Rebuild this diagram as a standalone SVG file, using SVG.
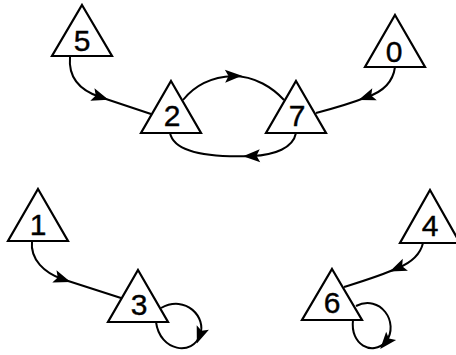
<svg xmlns="http://www.w3.org/2000/svg" width="456" height="355" viewBox="0 0 456 355">
<style>
.tri{fill:#fff;stroke:#000;stroke-width:2.2;stroke-linejoin:miter}
.lbl{font-family:"Liberation Sans",Arial,sans-serif;font-size:30px;fill:#000;text-anchor:middle;stroke:#000;stroke-width:0.4}
.edge{fill:none;stroke:#000;stroke-width:2;marker-mid:url(#arr)}
</style>
<defs>
<marker id="arr" markerUnits="userSpaceOnUse" markerWidth="22" markerHeight="22" viewBox="-11 -11 22 22" refX="0" refY="0" orient="auto">
<path d="M-8,-6.5 L9,0 L-8,6.5 L-4.5,0 z" fill="#000"/>
</marker>
</defs>
<rect width="456" height="355" fill="#fff"/>
<g id="connectors">
<path class="edge" d="M70,57 C68,80 82,91 100,97 L151,114"/>
<path class="edge" d="M183,100 C195,85 212,77 233,76 C255,76 273,88 284,100"/>
<path class="edge" d="M296,133 C293,148 275,155 252,156 C225,157 175,157 170,133"/>
<path class="edge" d="M395,67 C393,82 382,92 367,97 C352,103 335,108 316,113"/>
<path class="edge" d="M32,241 C30,260 45,273 62,279 L121,298"/>
<path class="edge" d="M423,243 C420,256 410,263 398,268 C380,276 360,282 344,287"/>
<path class="edge" d="M161,308 C186,294 207,318 200,335 C193,356 160,352 156,322"/>
<path class="edge" d="M356,306 C380,294 400,322 386,342 C372,356 350,345 353,320"/>
</g>
<g id="node5"><polygon class="tri" points="82,5 112,56 52,56"/><text class="lbl" x="82" y="51">5</text></g>
<g id="node2"><polygon class="tri" points="171,81 201,133 141,133"/><text class="lbl" x="172" y="126">2</text></g>
<g id="node7"><polygon class="tri" points="296,81 326,133 266,133"/><text class="lbl" x="297" y="126">7</text></g>
<g id="node0"><polygon class="tri" points="395,15 425,67 365,67"/><text class="lbl" x="394" y="62">0</text></g>
<g id="node1"><polygon class="tri" points="38,189 68,241 8,241"/><text class="lbl" x="38" y="235">1</text></g>
<g id="node3"><polygon class="tri" points="138,270 168,322 108,322"/><text class="lbl" x="139" y="315">3</text></g>
<g id="node4"><polygon class="tri" points="430,190 460,243 400,243"/><text class="lbl" x="430" y="236">4</text></g>
<g id="node6"><polygon class="tri" points="332,269 362,320 302,320"/><text class="lbl" x="332" y="313">6</text></g>
</svg>
